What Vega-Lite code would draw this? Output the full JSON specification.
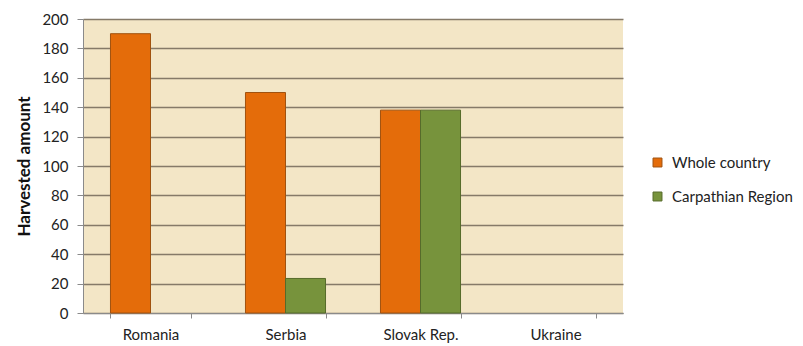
{
  "$schema": "https://vega.github.io/schema/vega-lite/v6.json",
  "width": 540,
  "height": 294,
  "autosize": {"type": "none"},
  "padding": {"left": 83, "top": 19, "right": 180, "bottom": 33},
  "background": "#ffffff",
  "config": {
    "font": "Lato",
    "view": {"fill": "#F3E6C6", "stroke": null},
    "axis": {"labelFont": "Lato", "titleFont": "Lato"}
  },
  "data": {
    "values": [
      {"country": "Romania", "series": "Whole country", "value": 190},
      {"country": "Serbia", "series": "Whole country", "value": 150},
      {"country": "Serbia", "series": "Carpathian Region", "value": 23.5},
      {"country": "Slovak Rep.", "series": "Whole country", "value": 138},
      {"country": "Slovak Rep.", "series": "Carpathian Region", "value": 138}
    ]
  },
  "mark": {"type": "bar", "strokeWidth": 1},
  "encoding": {
    "x": {
      "field": "country",
      "type": "nominal",
      "scale": {"domain": ["Romania", "Serbia", "Slovak Rep.", "Ukraine"], "paddingInner": 0.407, "paddingOuter": 0.2035},
      "axis": {
        "title": null,
        "labelAngle": 0,
        "labelFontSize": 15,
        "labelColor": "#222222",
        "labelPadding": 9,
        "tickBand": "extent",
        "tickColor": "#8a8a8a",
        "tickSize": 5,
        "domainColor": "#8a8a8a",
        "domainWidth": 1
      }
    },
    "xOffset": {
      "field": "series",
      "type": "nominal",
      "scale": {"domain": ["Whole country", "Carpathian Region"], "paddingInner": 0, "paddingOuter": 0}
    },
    "y": {
      "field": "value",
      "type": "quantitative",
      "scale": {"domain": [0, 200], "nice": false},
      "axis": {
        "title": "Harvested amount",
        "titleFontSize": 17,
        "titleFontWeight": "bold",
        "titleColor": "#111111",
        "titlePadding": 8,
        "values": [0, 20, 40, 60, 80, 100, 120, 140, 160, 180, 200],
        "labelFontSize": 15,
        "labelColor": "#222222",
        "labelPadding": 9,
        "tickSize": 6,
        "tickColor": "#8a8a8a",
        "domainColor": "#8a8a8a",
        "gridColor": "#857A68",
        "gridWidth": 1.3
      }
    },
    "color": {
      "field": "series",
      "type": "nominal",
      "scale": {"domain": ["Whole country", "Carpathian Region"], "range": ["#E46C0A", "#77933C"]},
      "legend": {
        "title": null,
        "orient": "none",
        "legendX": 567,
        "legendY": 136,
        "symbolType": "square",
        "symbolSize": 80,
        "symbolStrokeWidth": 1,
        "labelFontSize": 15,
        "labelColor": "#222222",
        "rowPadding": 18,
        "labelOffset": 7
      }
    },
    "stroke": {
      "field": "series",
      "type": "nominal",
      "scale": {"domain": ["Whole country", "Carpathian Region"], "range": ["#A0520F", "#566B2A"]},
      "legend": null
    }
  }
}
